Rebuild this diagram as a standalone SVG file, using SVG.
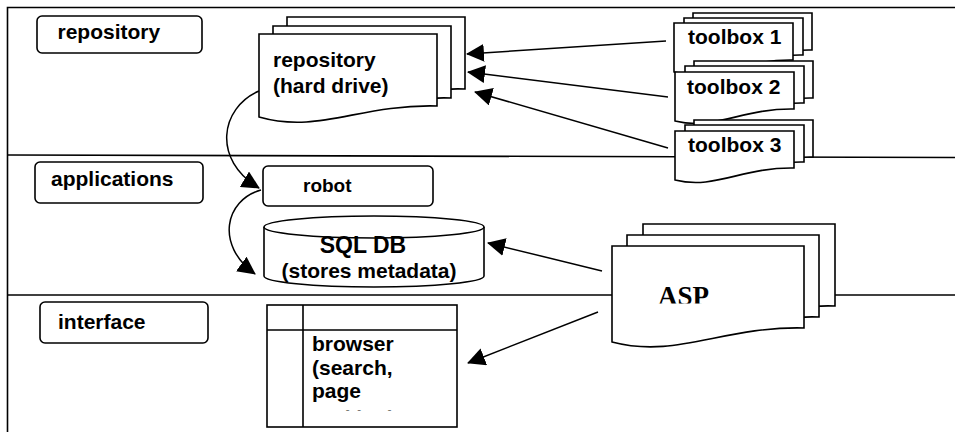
<svg xmlns="http://www.w3.org/2000/svg" xmlns:xlink="http://www.w3.org/1999/xlink" width="955" height="432" viewBox="0 0 955 432">
<defs>
<style>
.ln{fill:none;stroke:#000;stroke-width:1.6}
.shape{fill:#fff;stroke:#000;stroke-width:1.6}
.t{font-family:"Liberation Sans",Arial,sans-serif;font-weight:bold;font-size:21px;fill:#000}
.c{fill:none;stroke:#000;stroke-width:1.5}
</style>
<marker id="ah" markerUnits="userSpaceOnUse" viewBox="0 0 18 18" refX="17" refY="9" markerWidth="18" markerHeight="18" orient="auto"><path d="M0,0 L18,9 L0,18 Z" fill="#000"/></marker>
<path id="docRepo" d="M0,0 H178 V72 C100,70 60,100 0,83 Z"/>
<path id="docTool" d="M0,0 H119 V37 C67,36 40,59 0,49 Z"/>
<path id="docAsp" d="M0,0 H192 V82 C110,80 65,113 0,96 Z"/>
<clipPath id="clipAsp"><rect x="612" y="246" width="192" height="57.5"/></clipPath>
<clipPath id="clipBrowser"><rect x="303" y="330" width="154" height="80.5"/></clipPath>
</defs>

<g id="frame">
<path class="ln" d="M7.5,432 V7.5 H955"/>
<path class="ln" d="M8,155 L955,157.5"/>
<path class="ln" d="M8,295 H955"/>
</g>

<g id="lane-repository">
<rect class="shape" x="37" y="16" width="165" height="37" rx="5"/>
<text class="t" x="57.5" y="39">repository</text>
</g>
<g id="lane-applications">
<rect class="shape" x="35" y="162" width="168" height="41" rx="5"/>
<text class="t" x="51" y="186">applications</text>
</g>
<g id="lane-interface">
<rect class="shape" x="40" y="302" width="168" height="41" rx="5"/>
<text class="t" x="58" y="329">interface</text>
</g>

<g id="repository">
<use xlink:href="#docRepo" href="#docRepo" class="shape" x="287" y="17"/>
<use xlink:href="#docRepo" href="#docRepo" class="shape" x="273" y="26"/>
<use xlink:href="#docRepo" href="#docRepo" class="shape" x="259" y="34"/>
<text class="t" x="273" y="67">repository</text>
<text class="t" x="273" y="93">(hard drive)</text>
</g>

<g id="toolbox1">
<use xlink:href="#docTool" href="#docTool" class="shape" x="693" y="13"/>
<use xlink:href="#docTool" href="#docTool" class="shape" x="684" y="18"/>
<use xlink:href="#docTool" href="#docTool" class="shape" x="674" y="23"/>
<text class="t" x="688" y="44">toolbox 1</text>
</g>
<g id="toolbox2">
<use xlink:href="#docTool" href="#docTool" class="shape" x="694" y="61"/>
<use xlink:href="#docTool" href="#docTool" class="shape" x="685" y="66"/>
<use xlink:href="#docTool" href="#docTool" class="shape" x="675" y="72"/>
<text class="t" x="687" y="94">toolbox 2</text>
</g>
<g id="toolbox3">
<use xlink:href="#docTool" href="#docTool" class="shape" x="694" y="120"/>
<use xlink:href="#docTool" href="#docTool" class="shape" x="685" y="125"/>
<use xlink:href="#docTool" href="#docTool" class="shape" x="675" y="131"/>
<text class="t" x="688" y="152">toolbox 3</text>
</g>

<g id="robot">
<rect class="shape" x="263" y="166" width="170" height="40" rx="5"/>
<text class="t" x="303" y="192" style="font-size:19px">robot</text>
</g>

<g id="sqldb">
<path class="shape" d="M264,227 V276 A110,11 0 0 0 484,276 V227"/>
<ellipse class="shape" cx="374" cy="227" rx="110" ry="11"/>
<text class="t" x="363" y="253" text-anchor="middle" style="font-size:23px">SQL DB</text>
<text class="t" x="369" y="278" text-anchor="middle">(stores metadata)</text>
</g>

<g id="asp">
<use xlink:href="#docAsp" href="#docAsp" class="shape" x="643" y="224"/>
<use xlink:href="#docAsp" href="#docAsp" class="shape" x="627" y="235"/>
<use xlink:href="#docAsp" href="#docAsp" class="shape" x="612" y="246"/>
<text x="658" y="305" clip-path="url(#clipAsp)" style="font-family:'Liberation Serif','Times New Roman',serif;font-weight:bold;font-size:27px;fill:#000">ASP</text>
</g>

<g id="browser">
<rect class="shape" x="267" y="305" width="190" height="122"/>
<path class="ln" d="M303,305 V427 M267,330 H457"/>
<g clip-path="url(#clipBrowser)">
<text class="t" x="312" y="351">browser</text>
<text class="t" x="312" y="374.5">(search,</text>
<text class="t" x="312" y="398">page</text>
<text class="t" x="312" y="424.5">ranking)</text>
</g>
</g>

<g id="connectors">
<path class="c" d="M666,41 L467,54" marker-end="url(#ah)"/>
<path class="c" d="M668,97 L468,72" marker-end="url(#ah)"/>
<path class="c" d="M668,148 L475,92" marker-end="url(#ah)"/>
<path class="c" d="M259,91 C220,108 212,160 259,188" marker-end="url(#ah)"/>
<path class="c" d="M261,190 C225,200 215,245 255,274" marker-end="url(#ah)"/>
<path class="c" d="M602,271 L488,243" marker-end="url(#ah)"/>
<path class="c" d="M598,312 L468,363" marker-end="url(#ah)"/>
</g>
</svg>
